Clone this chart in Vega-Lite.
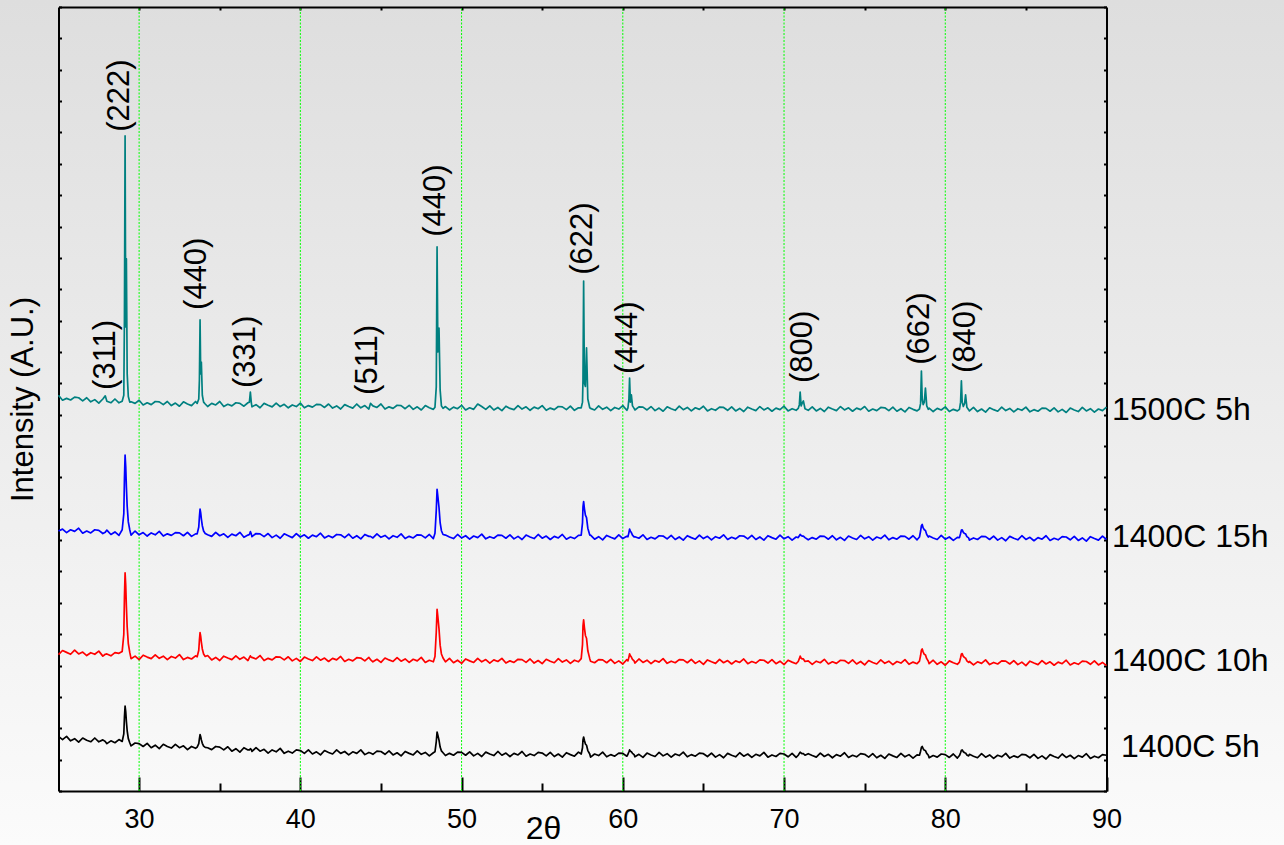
{
  "$schema": "https://vega.github.io/schema/vega-lite/v6.json",
  "width": 1284,
  "height": 845,
  "autosize": {"type": "none"},
  "padding": 0,
  "background": "#ececec",
  "config": {
    "view": {"stroke": null, "fill": {"gradient": "linear", "x1": 0, "y1": 0, "x2": 0, "y2": 1, "stops": [{"offset": 0, "color": "#dedede"}, {"offset": 1, "color": "#fbfbfb"}]}},
    "font": "Liberation Sans",
    "axis": {"domainColor": "#000000", "domainWidth": 2, "tickColor": "#000000", "tickWidth": 2, "labelColor": "#000000", "titleColor": "#000000", "grid": false, "zindex": 1, "labelFlush": false, "labelOverlap": false}
  },
  "layer": [
    {
      "data": {"values": [{"g": 30}, {"g": 40}, {"g": 50}, {"g": 60}, {"g": 70}, {"g": 80}]},
      "mark": {"type": "rule", "color": "#00ff00", "strokeWidth": 1, "strokeDash": [2, 1.5]},
      "encoding": {
        "x": {"field": "g", "type": "quantitative", "scale": {"domain": [25, 90], "range": [58.5, 1106.5], "nice": false, "zero": false},
          "axis": {"orient": "bottom", "offset": -54, "values": [35, 45, 55, 65, 75, 85], "tickSize": -8, "labels": false, "domain": false, "title": null}},
        "y": {"datum": 0, "type": "quantitative", "scale": {"domain": [0, 2500], "range": [791, 7], "nice": false, "zero": false},
          "axis": {"orient": "right", "offset": -177.5, "values": [0,100,200,300,400,500,600,700,800,900,1000,1100,1200,1300,1400,1500,1600,1700,1800,1900,2000,2100,2200,2300,2400,2500], "tickSize": -3, "labels": false, "title": null}},
        "y2": {"datum": 2500}
      }
    },
    {
      "data": {
        "values": "x,a,b,c,d\n25,174,435,829,1262\n25.25,164,448,835,1246\n25.5,174,442,824,1252\n25.75,160,436,833,1247\n26,167,449,828,1256\n26.25,156,437,838,1254\n26.5,169,443,822,1244\n26.75,162,432,829,1254\n27,157,441,823,1241\n27.25,169,436,833,1248\n27.5,157,446,831,1237\n27.75,163,430,821,1250\n27.9,158,436,825,1260\n28,151,437,832,1243\n28.25,160,431,818,1238\n28.5,154,441,826,1250\n28.75,164,439,815,1238\n28.95,158,445,833,1243\n29.05,182,499,884,1262\n29.09,236,618,996,1508\n29.13,271,696,1071,2089\n29.17,253,656,1034,1480\n29.21,222,589,970,1697\n29.26,192,523,908,1330\n29.33,167,470,858,1258\n29.42,154,442,833,1240\n29.5,144,422,816,1241\n29.75,153,430,829,1236\n30,151,419,817,1246\n30.25,142,433,824,1231\n30.5,152,427,813,1238\n30.75,138,422,823,1232\n31,146,434,817,1242\n31.25,135,423,828,1241\n31.5,149,430,813,1232\n31.75,142,419,820,1242\n32,137,429,815,1229\n32.25,149,424,824,1237\n32.5,138,435,823,1227\n32.75,144,419,814,1241\n33,132,426,825,1234\n33.25,142,421,812,1229\n33.5,136,431,820,1242\n33.6,140,428,820,1236\n33.7,151,449,842,1250\n33.74,167,481,874,1311\n33.78,180,505,899,1502\n33.82,173,493,887,1330\n33.86,163,475,868,1368\n33.92,152,453,846,1262\n34,143,437,829,1240\n34.1,139,429,821,1234\n34.25,138,432,817,1226\n34.5,132,418,812,1236\n34.75,142,426,825,1231\n35,140,416,814,1242\n35.25,131,430,820,1226\n35.5,141,424,809,1233\n35.75,127,419,819,1228\n36,135,431,814,1238\n36.25,124,420,825,1236\n36.5,138,427,809,1227\n36.75,131,416,816,1238\n36.84,131,425,818,1240\n36.9,135,431,827,1272\n36.96,132,426,819,1238\n37,126,426,811,1225\n37.25,138,421,821,1232\n37.5,127,432,820,1222\n37.75,133,416,811,1236\n38,121,423,821,1230\n38.25,131,418,808,1225\n38.5,125,428,816,1237\n38.75,136,427,806,1226\n39,120,418,820,1233\n39.25,127,428,814,1222\n39.5,121,415,808,1231\n39.75,131,423,821,1226\n40,129,413,810,1237\n40.25,120,427,817,1222\n40.5,131,421,806,1229\n40.75,118,416,816,1224\n41,125,428,811,1233\n41.25,115,417,822,1232\n41.5,129,424,807,1223\n41.75,123,413,814,1234\n42,118,423,808,1221\n42.25,131,418,818,1228\n42.5,120,429,817,1218\n42.75,126,413,808,1232\n43,115,420,819,1226\n43.25,125,415,806,1221\n43.5,120,425,814,1234\n43.75,131,424,804,1222\n44,116,415,818,1229\n44.25,123,426,812,1218\n44.35,121,419,812,1236\n44.5,117,412,807,1228\n44.75,127,420,820,1223\n45,126,410,809,1234\n45.25,117,424,815,1218\n45.5,128,418,804,1225\n45.75,115,413,814,1220\n46,122,425,809,1230\n46.25,112,414,820,1229\n46.5,126,421,805,1219\n46.75,120,410,812,1230\n47,115,420,807,1217\n47.25,128,415,817,1225\n47.5,117,426,816,1215\n47.75,123,410,807,1229\n48,112,417,818,1222\n48.25,122,412,805,1217\n48.35,125,429,822,1224\n48.43,157,506,894,1288\n48.48,188,579,962,1735\n48.53,178,555,939,1400\n48.6,162,517,904,1476\n48.67,140,465,856,1279\n48.75,128,437,830,1228\n48.85,122,424,818,1220\n49,113,412,816,1226\n49.25,120,423,810,1215\n49.5,114,409,805,1224\n49.75,124,417,818,1219\n50,123,407,807,1230\n50.25,114,421,814,1215\n50.5,125,415,803,1222\n50.75,112,410,813,1217\n51,120,423,808,1234\n51.25,110,412,819,1226\n51.5,124,419,804,1217\n51.75,118,408,811,1228\n52,113,418,806,1215\n52.25,126,413,816,1223\n52.5,114,423,815,1213\n52.75,121,408,806,1227\n53,110,415,817,1220\n53.25,120,410,804,1216\n53.5,115,420,812,1229\n53.75,126,419,802,1218\n54,111,410,816,1225\n54.25,118,421,810,1214\n54.5,113,408,805,1224\n54.75,123,416,818,1219\n55,121,406,806,1229\n55.25,112,420,813,1214\n55.5,123,414,802,1221\n55.75,110,409,812,1216\n56,118,422,807,1226\n56.25,108,411,818,1225\n56.5,122,418,803,1216\n56.75,116,407,810,1227\n57,111,417,805,1214\n57.25,124,412,815,1222\n57.42,118,422,816,1222\n57.5,138,467,855,1240\n57.53,163,526,906,1311\n57.57,172,546,923,1626\n57.62,161,520,900,1300\n57.68,150,496,880,1290\n57.75,146,487,872,1413\n57.83,129,447,838,1250\n57.95,118,422,816,1222\n58,108,414,816,1220\n58.25,118,409,803,1215\n58.5,113,419,811,1228\n58.75,124,418,801,1217\n59,109,409,815,1224\n59.25,116,420,809,1213\n59.5,111,407,804,1223\n59.75,121,415,817,1218\n60,120,405,805,1229\n60.25,111,419,812,1214\n60.32,117,415,811,1222\n60.38,125,427,824,1250\n60.42,131,437,835,1317\n60.47,127,431,828,1240\n60.53,125,427,824,1263\n60.6,120,420,816,1228\n60.7,116,415,810,1220\n60.75,109,408,811,1215\n61,117,421,806,1225\n61.25,107,410,817,1224\n61.5,121,417,802,1215\n61.75,115,406,809,1226\n62,110,416,804,1213\n62.25,123,411,814,1221\n62.5,112,422,813,1211\n62.75,119,407,804,1225\n63,108,414,815,1219\n63.25,118,409,802,1214\n63.5,113,419,810,1227\n63.75,124,418,800,1216\n64,109,409,814,1223\n64.25,116,420,808,1212\n64.5,111,407,803,1222\n64.75,121,415,816,1217\n65,119,404,805,1227\n65.25,110,418,812,1212\n65.5,121,412,801,1219\n65.75,108,407,811,1214\n66,116,420,806,1224\n66.25,106,409,817,1223\n66.5,120,416,802,1214\n66.75,114,405,809,1225\n67,109,415,804,1212\n67.25,122,410,814,1220\n67.5,111,421,813,1210\n67.75,118,406,804,1224\n68,107,413,815,1218\n68.25,117,408,802,1213\n68.5,112,418,810,1226\n68.75,123,417,800,1215\n69,108,408,814,1222\n69.25,115,419,808,1211\n69.5,110,406,803,1221\n69.75,120,414,816,1216\n70,118,403,804,1227\n70.25,109,417,811,1212\n70.5,120,411,800,1219\n70.75,107,406,810,1214\n70.88,114,413,808,1220\n70.95,120,422,814,1232\n71,124,430,818,1272\n71.06,121,424,815,1228\n71.12,119,421,813,1236\n71.2,119,421,813,1244\n71.3,114,413,808,1219\n71.5,119,415,801,1214\n71.75,113,404,808,1225\n72,108,414,803,1212\n72.25,121,409,813,1220\n72.5,110,420,812,1210\n72.75,117,405,803,1224\n73,106,412,814,1218\n73.25,116,407,801,1213\n73.5,111,417,809,1226\n73.75,122,416,799,1215\n74,107,407,813,1222\n74.25,114,418,807,1211\n74.5,109,405,802,1221\n74.75,119,413,815,1216\n75,117,402,804,1226\n75.25,108,416,811,1211\n75.5,119,410,800,1218\n75.75,106,405,810,1213\n76,114,418,805,1223\n76.25,104,407,816,1222\n76.5,118,414,801,1213\n76.75,112,403,808,1224\n77,107,413,803,1211\n77.25,120,408,813,1219\n77.5,109,419,812,1209\n77.75,116,404,803,1223\n78,105,411,814,1217\n78.25,115,406,801,1212\n78.4,114,414,810,1218\n78.47,127,432,829,1236\n78.52,139,449,846,1339\n78.57,142,453,850,1250\n78.63,135,443,839,1232\n78.7,130,436,833,1240\n78.77,129,434,831,1285\n78.85,120,422,818,1228\n78.95,114,414,810,1217\n79,106,406,813,1221\n79.25,113,417,807,1210\n79.5,108,404,802,1220\n79.75,118,412,815,1215\n80,116,401,803,1225\n80.25,107,415,810,1210\n80.5,118,409,799,1217\n80.75,105,404,809,1212\n80.88,113,411,808,1217\n80.95,122,425,821,1240\n81,130,437,832,1308\n81.05,131,438,833,1240\n81.12,125,429,825,1226\n81.2,122,425,821,1236\n81.26,121,424,820,1263\n81.34,115,415,811,1224\n81.45,112,410,807,1216\n81.5,117,413,800,1212\n81.75,111,402,807,1223\n82,106,412,802,1210\n82.25,119,407,812,1218\n82.5,108,418,811,1208\n82.75,115,403,802,1222\n83,104,410,813,1216\n83.25,114,405,800,1211\n83.5,109,415,808,1224\n83.75,120,414,798,1213\n84,105,405,812,1220\n84.25,112,416,806,1209\n84.5,107,403,801,1219\n84.75,117,411,814,1214\n85,115,400,802,1224\n85.25,106,414,809,1209\n85.5,117,408,798,1216\n85.75,104,403,808,1211\n86,112,416,803,1221\n86.25,102,405,814,1220\n86.5,116,412,799,1211\n86.75,110,401,806,1222\n87,105,411,801,1209\n87.25,118,406,811,1217\n87.5,107,417,810,1207\n87.75,114,402,801,1221\n88,103,409,812,1215\n88.25,113,404,799,1210\n88.5,108,414,807,1223\n88.75,119,413,797,1212\n89,104,404,811,1219\n89.25,111,415,805,1208\n89.5,106,402,800,1218\n89.75,116,410,813,1213\n90,114,400,802,1224",
        "format": {"type": "csv", "parse": {"x": "number", "a": "number", "b": "number", "c": "number", "d": "number"}}
      },
      "transform": [{"fold": ["a", "b", "c", "d"], "as": ["s", "v"]}],
      "mark": {"type": "line", "strokeWidth": 1.7, "strokeJoin": "round"},
      "encoding": {
        "x": {"field": "x", "type": "quantitative", "scale": {"domain": [25, 90], "range": [58.5, 1106.5], "nice": false, "zero": false},
          "axis": {"orient": "bottom", "offset": -54, "values": [30, 40, 50, 60, 70, 80, 90], "tickSize": -14, "labelFontSize": 27, "labelPadding": 29, "labelBaseline": "top",
            "title": "2θ", "titleFontSize": 32, "titleFontWeight": "normal", "titleX": 543, "titleY": 47, "titleAlign": "center", "titleBaseline": "alphabetic"}},
        "y": {"field": "v", "type": "quantitative", "scale": {"domain": [0, 2500], "range": [791, 7], "nice": false, "zero": false},
          "axis": {"orient": "left", "offset": -58.5, "values": [0,100,200,300,400,500,600,700,800,900,1000,1100,1200,1300,1400,1500,1600,1700,1800,1900,2000,2100,2200,2300,2400,2500], "tickSize": -3, "labels": false,
            "title": "Intensity (A.U.)", "titleFontSize": 31, "titleFontWeight": "normal", "titleAngle": 270, "titleX": -35, "titleY": 399, "titleAlign": "center", "titleBaseline": "middle"}},
        "color": {"field": "s", "type": "nominal", "scale": {"domain": ["a", "b", "c", "d"], "range": ["#000000", "#ff0000", "#0000ff", "#008080"]}, "legend": null}
      }
    },
    {
      "data": {"values": [
        {"x": 27.96, "y": 1279, "t": "(311)"},
        {"x": 28.83, "y": 2102, "t": "(222)"},
        {"x": 33.57, "y": 1534, "t": "(440)"},
        {"x": 36.64, "y": 1285, "t": "(331)"},
        {"x": 44.21, "y": 1263, "t": "(511)"},
        {"x": 48.43, "y": 1767, "t": "(440)"},
        {"x": 57.55, "y": 1646, "t": "(622)"},
        {"x": 60.34, "y": 1330, "t": "(444)"},
        {"x": 71.2, "y": 1301, "t": "(800)"},
        {"x": 78.46, "y": 1359, "t": "(662)"},
        {"x": 81.31, "y": 1333, "t": "(840)"}
      ]},
      "mark": {"type": "text", "angle": 270, "align": "left", "baseline": "middle", "font": "Liberation Sans", "fontSize": 31, "color": "#000000"},
      "encoding": {
        "x": {"field": "x", "type": "quantitative", "scale": {"domain": [25, 90], "range": [58.5, 1106.5], "nice": false, "zero": false},
          "axis": {"orient": "top", "offset": -7, "values": [30, 35, 40, 45, 50, 55, 60, 65, 70, 75, 80, 85], "tickSize": -3, "labels": false, "title": null}},
        "y": {"field": "y", "type": "quantitative", "axis": null},
        "text": {"field": "t"}
      }
    },
    {
      "data": {"values": [
        {"x": 90.34, "y": 1215, "t": "1500C 5h"},
        {"x": 90.34, "y": 810, "t": "1400C 15h"},
        {"x": 90.34, "y": 415, "t": "1400C 10h"},
        {"x": 90.9, "y": 140, "t": "1400C 5h"}
      ]},
      "mark": {"type": "text", "align": "left", "baseline": "middle", "font": "Liberation Sans", "fontSize": 32, "color": "#000000"},
      "encoding": {
        "x": {"field": "x", "type": "quantitative", "axis": null},
        "y": {"field": "y", "type": "quantitative", "axis": null},
        "text": {"field": "t"}
      }
    }
  ],
  "resolve": {"axis": {"x": "independent", "y": "independent"}}
}
